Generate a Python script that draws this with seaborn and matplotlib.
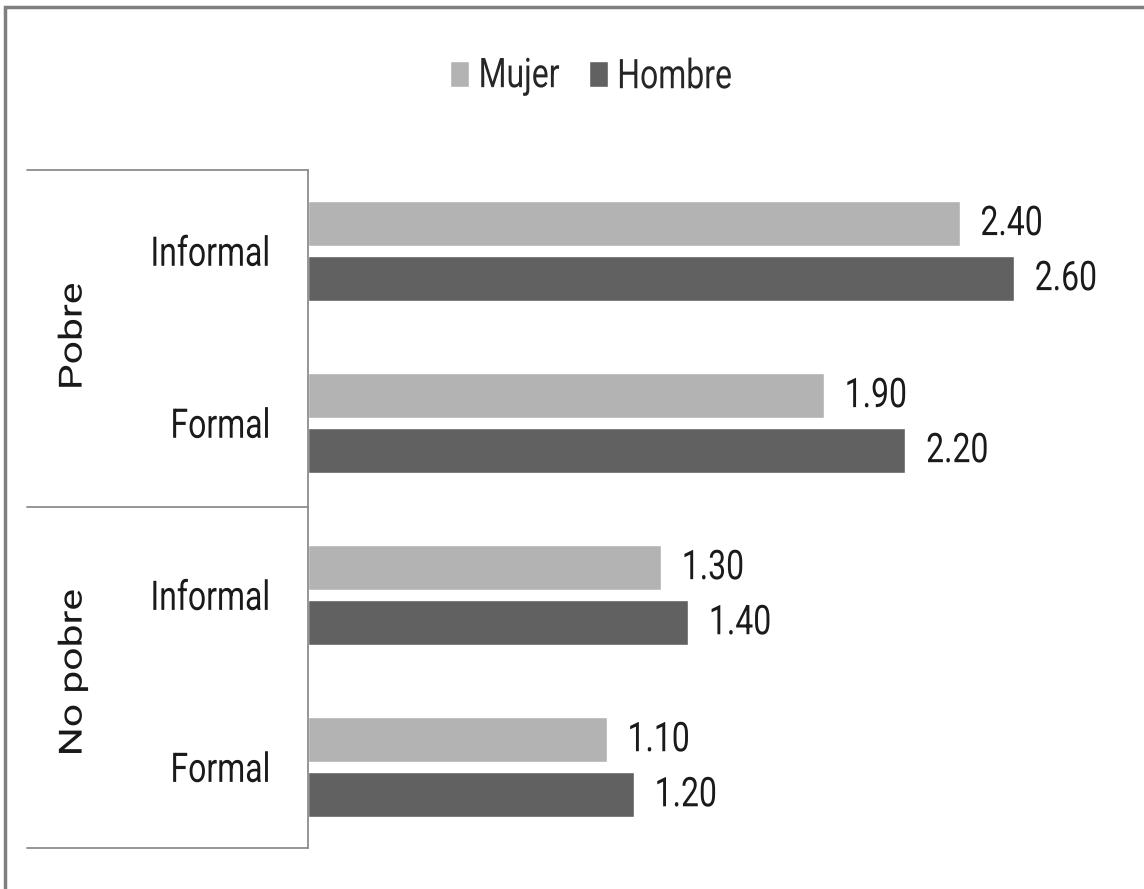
import pandas as pd
import matplotlib
matplotlib.use("Agg")
import matplotlib.pyplot as plt
import seaborn as sns
from matplotlib.patches import Rectangle
from matplotlib.patheffects import AbstractPathEffect
from matplotlib.transforms import Affine2D

# Datos del gráfico
grupos = ["Pobre", "Pobre", "No pobre", "No pobre"]
tipos = ["Informal", "Formal", "Informal", "Formal"]
mujer = [2.40, 1.90, 1.30, 1.10]
hombre = [2.60, 2.20, 1.40, 1.20]
series = ["Mujer", "Hombre"]
colores = ["#b3b3b3", "#616161"]

# Tabla en formato largo
claves = [f"{g}-{t}" for g, t in zip(grupos, tipos)]
df = pd.DataFrame({
    "cat": claves * 2,
    "sexo": ["Mujer"] * 4 + ["Hombre"] * 4,
    "valor": mujer + hombre,
})


class Estirar(AbstractPathEffect):
    """Estira el texto en vertical (la imagen original está deformada)"""
    def __init__(self, k=1.28):
        super().__init__()
        self.k = k

    def draw_path(self, renderer, gc, tpath, affine, rgbFace=None):
        caja = tpath.get_extents(affine)
        cy = (caja.y0 + caja.y1) / 2
        t = affine + Affine2D().translate(0, -cy).scale(1, self.k).translate(0, cy)
        renderer.draw_path(gc, tpath, t, rgbFace)


sns.set_theme(style="white")
plt.rcParams["font.family"] = ["Roboto", "DejaVu Sans"]
tam = 23
color_txt = "#1a1a1a"
efecto = [Estirar(1.28)]

fig = plt.figure(figsize=(11.44, 8.89), dpi=100)
ax = fig.add_axes([308 / 1144, 41 / 889, 836 / 1144, 678 / 889])

sns.barplot(data=df, x="valor", y="cat", hue="sexo", orient="h",
            palette=colores, hue_order=series, order=claves,
            width=0.64, gap=0.18, ax=ax)

ax.set_xlim(0, 836 / 271.5)
ax.set_xlabel("")
ax.set_ylabel("")
ax.set_xticks([])
ax.set_yticks(range(len(tipos)))
for lbl in ax.set_yticklabels(tipos, fontsize=tam, color=color_txt):
    lbl.set_path_effects(efecto)
ax.tick_params(axis="y", length=0, pad=27)

for lado in ["top", "right", "bottom"]:
    ax.spines[lado].set_visible(False)
ax.spines["left"].set_color("#8c8c8c")
ax.spines["left"].set_linewidth(1.3)

# Etiquetas de valores
for cont in ax.containers:
    for t in ax.bar_label(cont, fmt="%.2f", padding=15, fontsize=tam, color=color_txt):
        t.set_path_effects(efecto)

# Líneas separadoras de grupos
for yy in [0.0, 0.503, 1.0]:
    ax.plot([-0.336, 0], [yy, yy], transform=ax.transAxes, color="#8c8c8c",
            lw=1.3, clip_on=False)

# Nombres de grupo
for nombre, yy in [("Pobre", 0.755), ("No pobre", 0.259)]:
    ax.text(-0.281, yy, nombre, transform=ax.transAxes, rotation=90,
            ha="center", va="center", fontsize=tam, color=color_txt,
            path_effects=efecto)

# Leyenda
handles, labels = ax.get_legend_handles_labels()
ax.legend_.remove()
leg = fig.legend(handles, labels, loc="center", bbox_to_anchor=(591 / 1144, 1 - 76 / 889),
                 ncol=2, frameon=False, fontsize=tam, handlelength=0.6,
                 handleheight=0.85, handletextpad=0.3, columnspacing=0.9)
for t in leg.get_texts():
    t.set_path_effects(efecto)

# Marco exterior
fig.patches.append(Rectangle((5 / 1144, -0.05), 1.2, 1 - 7 / 889 + 0.05,
                             transform=fig.transFigure, fill=False,
                             edgecolor="#7f7f7f", lw=2.5))

fig.savefig("out.png", dpi=100)
